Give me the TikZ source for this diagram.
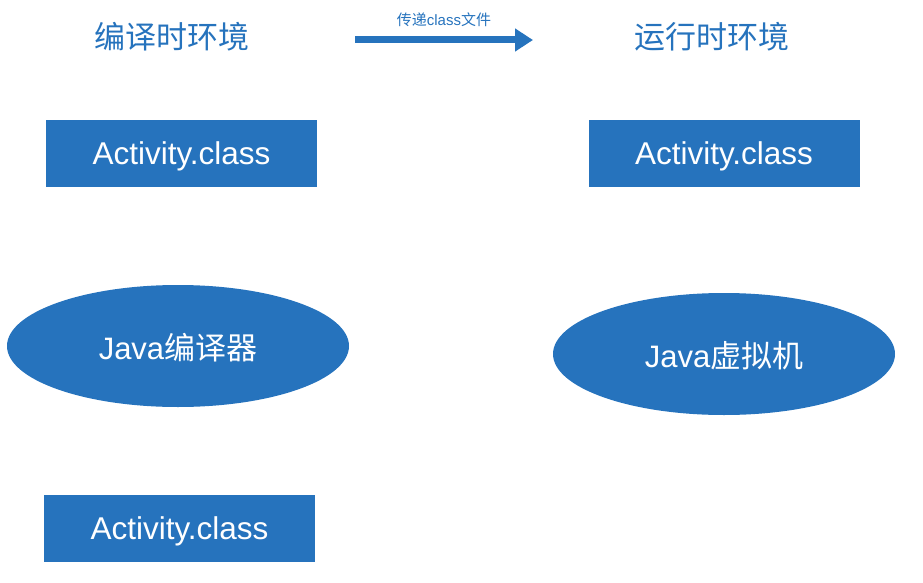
\documentclass[tikz,border=0pt]{standalone}
\usepackage{fontspec}
\setmainfont{Liberation Sans}
\newfontfamily\cjk{Noto Sans CJK SC}
\usetikzlibrary{shapes,arrows.meta,positioning}
\definecolor{boxblue}{RGB}{38,115,189}

\begin{document}
\begin{tikzpicture}[
    x=1pt, y=-1pt,
    classbox/.style={rectangle, fill=boxblue, text=white, minimum width=271pt, minimum height=67pt, font=\fontsize{31.5}{36}\selectfont, text depth=0pt, inner sep=0pt},
    engine/.style={ellipse, fill=boxblue, text=white, minimum width=342pt, minimum height=122pt, font=\fontsize{31}{36}\selectfont, text depth=0pt, inner sep=0pt},
    heading/.style={text=boxblue, font=\fontsize{31}{37}\selectfont\cjk}
]
\useasboundingbox (0,0) rectangle (923,583);

% Headings
\node[heading] (compile) at (172, 37) {编译时环境};
\node[heading] (runtime) at (712, 37) {运行时环境};

% Transfer arrow
\coordinate (from) at (355, 40);
\coordinate (to) at (533, 40);
\draw[boxblue, line width=7pt, -{Triangle[length=18pt, width=22pt]}] (from) -- node[above=6pt, text=boxblue, font=\fontsize{15}{18}\selectfont] {{\cjk 传递}class{\cjk 文件}} (to);

% Compile side
\node[classbox] (src) at (181.5, 153.5) {Activity.class};
\node[engine] (javac) at (178, 346) {Java{\cjk 编译器}};
\node[classbox] (out) at (179.5, 528.5) {Activity.class};

% Runtime side
\node[classbox] (loaded) at (724, 153.5) {Activity.class};
\node[engine] (jvm) at (724, 354) {Java{\cjk 虚拟机}};

\end{tikzpicture}
\end{document}
